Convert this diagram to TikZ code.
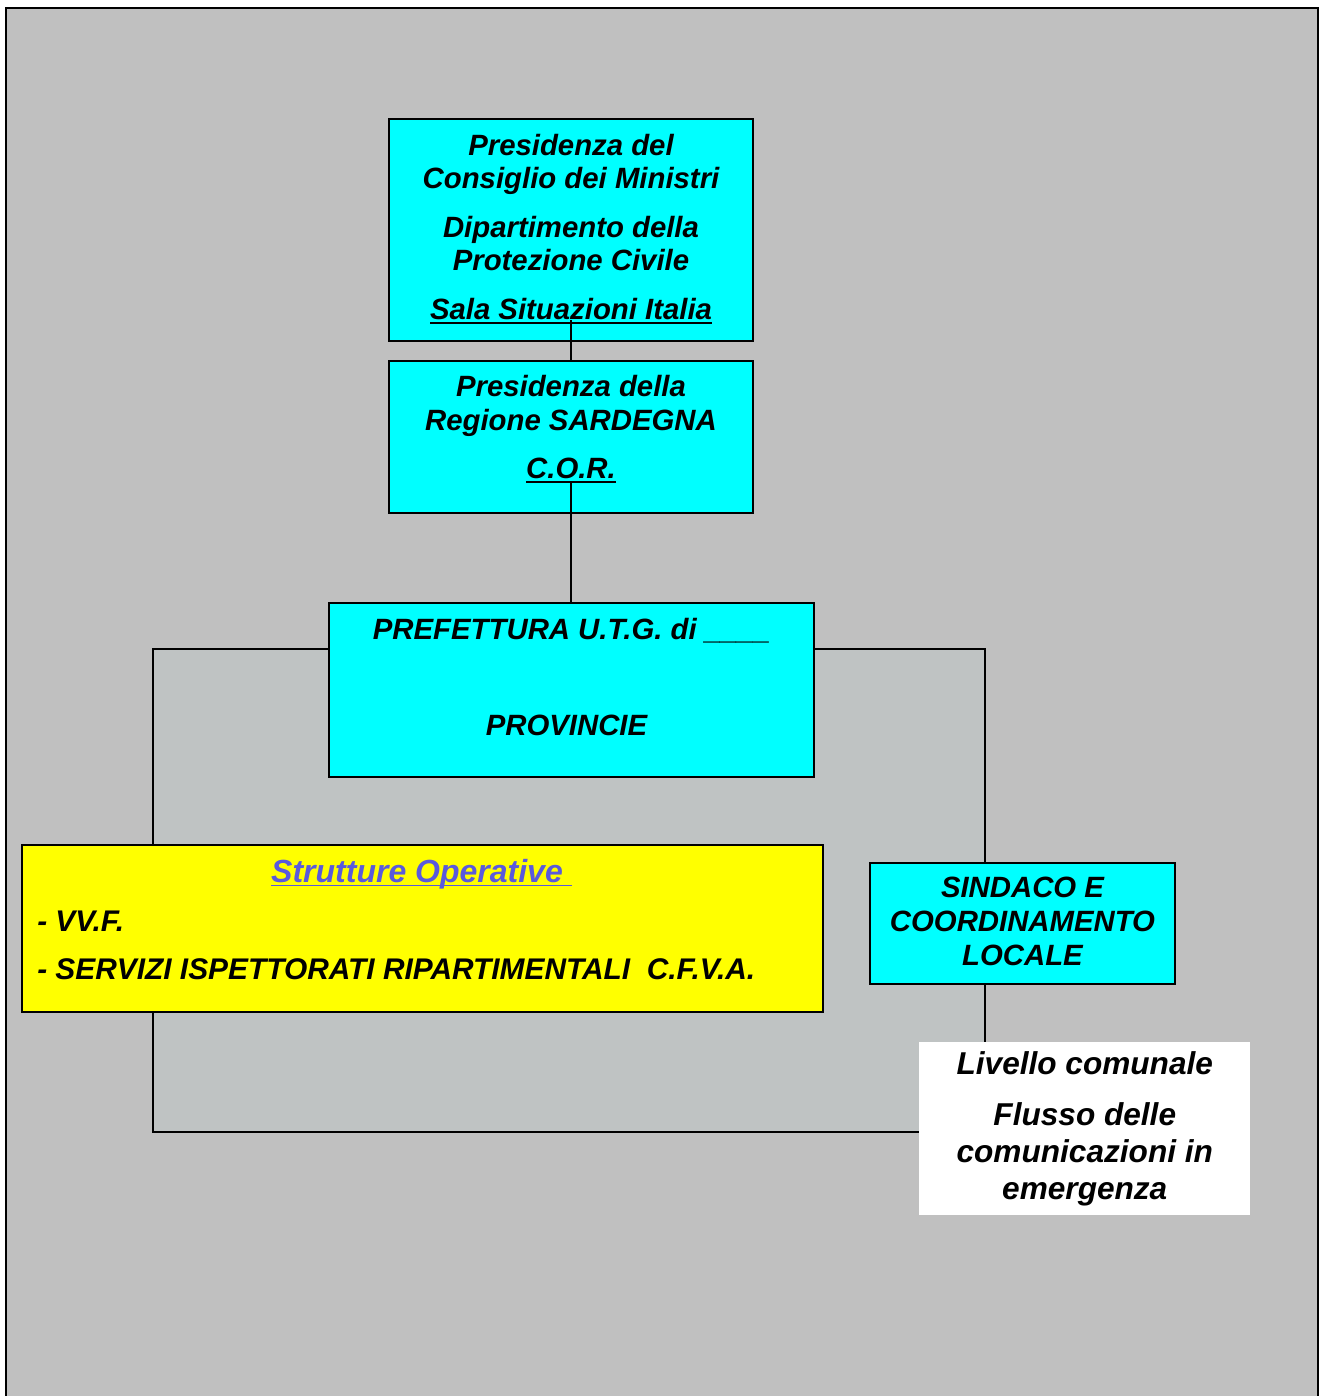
\documentclass[tikz,border=0pt]{standalone}
\usepackage{fontspec}
\setmainfont{Liberation Sans}
\newsavebox\ulbox
\newcommand\thickul[1]{\sbox\ulbox{#1}\rlap{\rule[-3.3pt]{\wd\ulbox}{1.4pt}}\usebox\ulbox}
\definecolor{bgout}{RGB}{192,192,192}
\definecolor{bginner}{RGB}{191,195,195}
\definecolor{opblue}{RGB}{90,90,220}
\definecolor{boxcyan}{RGB}{0,255,255}
\definecolor{boxyellow}{RGB}{255,255,0}
\newcommand\fbi[2]{\fontsize{#1}{#2}\selectfont\bfseries\itshape}
\tikzset{
  cbox/.style={draw=black, line width=1.5pt, fill=boxcyan, anchor=north west, inner sep=0pt, align=center},
  ybox/.style={draw=black, line width=1.5pt, fill=boxyellow, anchor=north west, inner sep=0pt},
  wbox/.style={fill=white, anchor=north west, inner sep=0pt, align=center},
  conn/.style={draw=black, line width=1.5pt},
  frame/.style={draw=black, line width=2pt},
  txt/.style={inner sep=0pt}
}
\begin{document}
\begin{tikzpicture}[x=0.75pt,y=-0.75pt]
\useasboundingbox (0,0) rectangle (1320,1396);
\fill[bgout] (6,8) rectangle (1318,1396);
\draw[frame] (6,1396) -- (6,8) -- (1318,8) -- (1318,1396);
\coordinate (tl) at (153,649);
\coordinate (br) at (985,1132);
\fill[bginner] (tl) rectangle (br);

\node[cbox, minimum width=273pt, minimum height=166.5pt, font=\fbi{22}{24.75}] (b1) at (388,118)
  {Presidenza del\\Consiglio dei Ministri\\[12pt]Dipartimento della\\Protezione Civile\\[12pt]\thickul{Sala Situazioni Italia}\rule[-4.5pt]{0pt}{4.5pt}};
\node[cbox, minimum width=273pt, minimum height=114pt, font=\fbi{22}{25.5}] (b2) at (388,360)
  {Presidenza della\\Regione SARDEGNA\\[10.5pt]\thickul{C.O.R.}\rule[-15pt]{0pt}{15pt}};
\node[cbox, minimum width=363.75pt, minimum height=130.5pt, font=\fbi{22}{24.75}] (b3) at (328,602)
  {PREFETTURA U.T.G. di \_\_\_\_\\[47.25pt]PROVINCIE\hspace*{7.5pt}\rule[-20pt]{0pt}{20pt}};
\node[ybox, minimum width=600.75pt, minimum height=125.25pt] (yel) at (21,844) {};
\node[txt, anchor=base, text=opblue, font=\fbi{24}{26}] (so) at (421.5,882) {\thickul{Strutture Operative\ }};
\node[txt, anchor=base west, font=\fbi{22.4}{24.75}] (vvf) at (37,931) {- VV.F.};
\node[txt, anchor=base west, font=\fbi{22.4}{24.75}] (cfva) at (37,979) {- SERVIZI ISPETTORATI RIPARTIMENTALI\ \ C.F.V.A.};
\node[cbox, minimum width=228.75pt, minimum height=90.75pt, font=\fbi{22}{25.5}] (sin) at (869,862)
  {SINDACO E\\COORDINAMENTO\\LOCALE\rule[-3pt]{0pt}{3pt}};
\node[wbox, minimum width=248.25pt, minimum height=129.75pt, font=\fbi{23.7}{27.75}] (wb) at (919,1042)
  {Livello comunale\\[10.5pt]Flusso delle\\comunicazioni in\\emergenza};

\coordinate (c1) at (571,320);
\coordinate (c2) at (571,483);
\draw[conn] (c1) -- (b2.north -| c1);
\draw[conn] (c2) -- (c2 |- b3.north);
\draw[conn] (tl -| b3.west) -- (tl) -- (tl |- yel.north);
\draw[conn] (tl |- yel.south) -- (tl |- br) -- (br -| wb.west);
\draw[conn] (b3.east |- tl) -- (br |- tl) -- (br |- sin.north);
\draw[conn] (br |- sin.south) -- (br |- wb.north);
\end{tikzpicture}
\end{document}
